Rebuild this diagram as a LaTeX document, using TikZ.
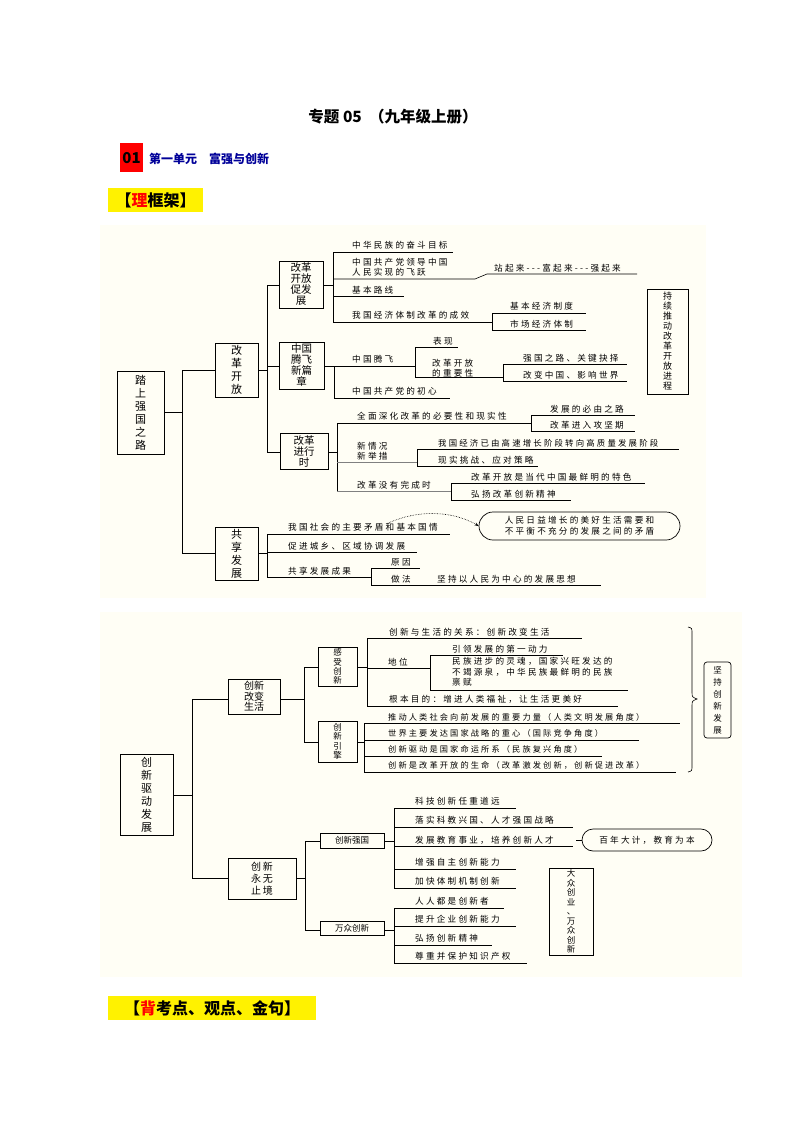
\documentclass[tikz,border=0pt]{standalone}
\usepackage{fontspec}
\newfontfamily\cjk[LetterSpace=26]{Noto Sans CJK SC}
\newfontfamily\cjkh{Noto Sans CJK SC}
\usetikzlibrary{arrows.meta}
\begin{document}
\begin{tikzpicture}[x=1pt,y=-1pt,
  ln/.style={line width=0.6pt},
  bx/.style={draw,line width=0.7pt,inner sep=0pt,align=center,font=\cjkh\fontsize{11}{13}\selectfont},
  leaf/.style={anchor=west,inner sep=0pt,font=\cjk\fontsize{8.6}{10}\selectfont},
  hdr/.style={inner sep=0pt,font=\cjkh\bfseries}]
\useasboundingbox (0,0) rectangle (794,1123);
\fill[white] (0,0) rectangle (794,1123);
% header
\node[hdr,font=\cjkh\bfseries\fontsize{15.5}{17}\selectfont] (title) at (393,117) {专题 05\ \ （九年级上册）};
\fill[red] (120,143) rectangle (143,172);
\node[hdr,font=\cjkh\bfseries\fontsize{15}{16}\selectfont] (n01) at (131.5,158) {01};
\node[hdr,anchor=west,text=blue!60!black,font=\cjkh\bfseries\fontsize{12}{13}\selectfont] (unit) at (149,159) {第一单元\quad 富强与创新};
\fill[yellow] (108,188) rectangle (203,212);
\node[hdr,font=\cjkh\bfseries\fontsize{16}{17}\selectfont] (lk) at (155.5,200) {【\textcolor{red}{理}框架】};
\fill[yellow] (108,996) rectangle (316,1020);
\node[hdr,font=\cjkh\bfseries\fontsize{16}{17}\selectfont] (bk) at (212,1008) {【\textcolor{red}{背}考点、观点、金句】};
% panels
\fill[yellow!4] (100,225) rectangle (706,598);
\fill[yellow!4] (100,612) rectangle (742,977);

% ===== Panel 1 =====
\node[bx,minimum width=47pt,minimum height=83pt] (r1) at (140.5,412.5) {踏\\上\\强\\国\\之\\路};
\node[bx,minimum width=43pt,minimum height=54pt] (gk) at (236.5,370) {改\\革\\开\\放};
\node[bx,minimum width=44pt,minimum height=47pt,font=\cjkh\fontsize{10.5}{11}\selectfont] (cj) at (301,284.5) {改革\\开放\\促发\\展};
\node[bx,minimum width=45pt,minimum height=47pt,font=\cjkh\fontsize{10.5}{11}\selectfont] (tf) at (301.5,365.5) {中国\\腾飞\\新篇\\章};
\node[bx,minimum width=48pt,minimum height=36pt,font=\cjkh\fontsize{10.5}{11}\selectfont] (jx) at (304,451) {改革\\进行\\时};
\node[bx,minimum width=41pt,minimum height=105pt,font=\cjkh\fontsize{9}{10}\selectfont] (cx) at (667.5,341.5) {持\\续\\推\\动\\改\\革\\开\\放\\进\\程};
\node[bx,minimum width=43pt,minimum height=53pt] (gx) at (236.5,553.5) {共\\享\\发\\展};
\node[bx,rounded corners=14pt,minimum width=201pt,minimum height=28pt,font=\cjk\fontsize{8.6}{11}\selectfont] (mk) at (579.5,526) {人民日益增长的美好生活需要和\\不平衡不充分的发展之间的矛盾};

\draw[ln] (r1.east |- 0,412) -- (182,412);
\draw[ln] (182,370) -- (182,553);
\draw[ln] (182,370) -- (gk.west |- 0,370);
\draw[ln] (182,553) -- (gx.west |- 0,553);
\draw[ln] (gk.east |- 0,370) -- (267,370);
\draw[ln] (267,285) -- (267,452);
\draw[ln] (267,285) -- (cj.west |- 0,285);
\draw[ln] (267,366) -- (tf.west |- 0,366);
\draw[ln] (267,452) -- (jx.west |- 0,452);
% cj branch
\draw[ln] (cj.east |- 0,285) -- (333,285);
\draw[ln] (333,252) -- (333,322);
\draw[ln] (333,252) -- (453,252);
\draw[ln] (333,279) -- (475,279) -- (487,274) -- (637,274);
\draw[ln] (333,296) -- (404,296);
\draw[ln] (333,322) -- (492,322);
\draw[ln] (492,313) -- (492,330);
\draw[ln] (492,313) -- (586,313);
\draw[ln] (492,330) -- (586,330);
\node[leaf] (t1) at (352,245) {中华民族的奋斗目标};
\node[leaf,align=left,font=\cjk\fontsize{8.6}{10}\selectfont] (t2) at (352,267) {中国共产党领导中国\\人民实现的飞跃};
\node[leaf] (t3) at (494,268) {站起来---富起来---强起来};
\node[leaf] (t4) at (352,290) {基本路线};
\node[leaf] (t5) at (352,315) {我国经济体制改革的成效};
\node[leaf] (t6) at (510,306) {基本经济制度};
\node[leaf] (t7) at (510,324) {市场经济体制};
% tf branch
\draw[ln] (tf.east |- 0,366) -- (334,366);
\draw[ln] (334,366) -- (334,398);
\draw[ln] (334,366) -- (415,366);
\draw[ln] (334,398) -- (450,398);
\draw[ln] (415,347) -- (415,377);
\draw[ln] (415,347) -- (458,347);
\draw[ln] (415,377) -- (503,377);
\draw[ln] (503,364) -- (503,381);
\draw[ln] (503,364) -- (627,364);
\draw[ln] (503,381) -- (627,381);
\node[leaf] (t8) at (352,359) {中国腾飞};
\node[leaf] (t9) at (352,391) {中国共产党的初心};
\node[leaf] (t10) at (433,341) {表现};
\node[leaf,align=left,font=\cjk\fontsize{8.6}{10}\selectfont] (t11) at (432,368) {改革开放\\的重要性};
\node[leaf] (t12) at (523,358) {强国之路、关键抉择};
\node[leaf] (t13) at (523,375) {改变中国、影响世界};
% jx branch
\draw[ln] (jx.east |- 0,452) -- (337,452);
\draw[ln] (337,423) -- (337,491);
\draw[ln] (337,423) -- (531,423);
\draw[ln,gray] (337,462) -- (417,462);
\draw[ln,gray] (337,491) -- (451,491);
\draw[ln] (531,415) -- (531,431);
\draw[ln] (531,415) -- (635,415);
\draw[ln] (531,431) -- (635,431);
\draw[ln] (417,449) -- (417,466);
\draw[ln] (417,449) -- (679,449);
\draw[ln] (417,466) -- (538,466);
\draw[ln] (451,483) -- (451,500);
\draw[ln] (451,483) -- (645,483);
\draw[ln] (451,500) -- (571,500);
\node[leaf] (t14) at (357,416) {全面深化改革的必要性和现实性};
\node[leaf,align=left,font=\cjk\fontsize{8.6}{10}\selectfont] (t15) at (357,451) {新情况\\新举措};
\node[leaf] (t16) at (357,485) {改革没有完成时};
\node[leaf] (t17) at (550,409) {发展的必由之路};
\node[leaf] (t18) at (550,425) {改革进入攻坚期};
\node[leaf,font=\cjk\fontsize{8.4}{10}\selectfont] (t19) at (438,443) {我国经济已由高速增长阶段转向高质量发展阶段};
\node[leaf] (t20) at (438,460) {现实挑战、应对策略};
\node[leaf] (t21) at (471,477) {改革开放是当代中国最鲜明的特色};
\node[leaf] (t22) at (471,494) {弘扬改革创新精神};
% gx branch
\draw[ln] (gx.east |- 0,553) -- (267,553);
\draw[ln] (267,534) -- (267,577);
\draw[ln] (267,534) -- (450,534);
\draw[ln] (267,552) -- (417,552);
\draw[ln] (267,577) -- (371,577);
\draw[ln] (371,568) -- (371,585);
\draw[ln] (371,568) -- (420,568);
\draw[ln] (371,585) -- (601,585);
\node[leaf] (t23) at (288,527) {我国社会的主要矛盾和基本国情};
\node[leaf] (t24) at (288,546) {促进城乡、区域协调发展};
\node[leaf] (t25) at (288,571) {共享发展成果};
\node[leaf] (t26) at (391,562) {原因};
\node[leaf] (t27) at (391,579) {做法};
\node[leaf] (t28) at (437,579) {坚持以人民为中心的发展思想};
\coordinate (ds) at (386,524);
\draw[densely dotted,line width=0.6pt,-{Stealth[length=4pt,width=3pt]}] (ds) .. controls (420,508) and (455,512) .. (mk.west);

% ===== Panel 2 =====
\node[bx,minimum width=53pt,minimum height=81pt] (r2) at (146.5,794.5) {创\\新\\驱\\动\\发\\展};
\node[bx,minimum width=52pt,minimum height=35pt,font=\cjkh\fontsize{10}{10.5}\selectfont] (gb) at (254,696.5) {创新\\改变\\生活};
\node[bx,minimum width=39pt,minimum height=39pt,font=\cjkh\fontsize{8.5}{9.2}\selectfont] (gs) at (337.5,666.5) {感\\受\\创\\新};
\node[bx,minimum width=39pt,minimum height=41pt,font=\cjkh\fontsize{8.5}{9.5}\selectfont] (yq) at (337.5,741.5) {创\\新\\引\\擎};
\node[bx,rounded corners=3pt,minimum width=27pt,minimum height=76pt,font=\cjkh\fontsize{8.5}{12}\selectfont] (jc) at (717.5,700) {坚\\持\\创\\新\\发\\展};
\node[bx,minimum width=68pt,minimum height=41pt,font=\cjkh\fontsize{10}{12}\selectfont] (ww) at (262,878.5) {创\,新\\永\,无\\止\,境};
\node[bx,minimum width=64pt,minimum height=15pt,font=\cjkh\fontsize{8.5}{10}\selectfont] (cq) at (352,840.5) {创新强国};
\node[bx,minimum width=64pt,minimum height=14pt,font=\cjkh\fontsize{8.5}{10}\selectfont] (wz) at (352,928.5) {万众创新};
\node[bx,rounded corners=11pt,minimum width=130pt,minimum height=22pt,font=\cjk\fontsize{8.6}{10}\selectfont] (bn) at (647,840) {百年大计，教育为本};
\node[bx,minimum width=44pt,minimum height=87pt,font=\cjkh\fontsize{8.5}{9.5}\selectfont] (dz) at (571,911.5) {大\\众\\创\\业\\、\\万\\众\\创\\新};

\draw[ln] (r2.east |- 0,795) -- (192,795);
\draw[ln] (192,699) -- (192,878);
\draw[ln] (192,699) -- (gb.west |- 0,699);
\draw[ln] (192,878) -- (ww.west |- 0,878);
\draw[ln] (gb.east |- 0,699) -- (304,699);
\draw[ln] (304,667) -- (304,742);
\draw[ln] (304,667) -- (gs.west |- 0,667);
\draw[ln] (304,742) -- (yq.west |- 0,742);
\draw[ln] (gs.east |- 0,667) -- (367,667);
\draw[ln] (367,638) -- (367,706);
\draw[ln] (367,638) -- (582,638);
\draw[ln] (367,668) -- (430,668);
\draw[ln] (367,706) -- (618,706);
\draw[ln] (430,655) -- (430,690);
\draw[ln] (430,655) -- (563,655);
\draw[ln] (430,690) -- (628,690);
\node[leaf] (s1) at (389,632) {创新与生活的关系：创新改变生活};
\node[leaf] (s2) at (388,662) {地位};
\node[leaf] (s3) at (389,699) {根本目的：增进人类福祉，让生活更美好};
\node[leaf] (s4) at (452,649) {引领发展的第一动力};
\node[leaf,align=left,font=\cjk\fontsize{8.6}{10.5}\selectfont] (s5) at (452,672) {民族进步的灵魂，国家兴旺发达的\\不竭源泉，中华民族最鲜明的民族\\禀赋};
\draw[ln] (yq.east |- 0,742) -- (364,742);
\draw[ln] (364,723) -- (364,772);
\draw[ln] (364,723) -- (680,723);
\draw[ln] (364,740) -- (639,740);
\draw[ln] (364,756) -- (602,756);
\draw[ln] (364,772) -- (676,772);
\node[leaf,font=\cjk\fontsize{8.2}{10}\selectfont] (s6) at (388,717) {推动人类社会向前发展的重要力量（人类文明发展角度）};
\node[leaf,font=\cjk\fontsize{8.2}{10}\selectfont] (s7) at (388,733) {世界主要发达国家战略的重心（国际竞争角度）};
\node[leaf,font=\cjk\fontsize{8.2}{10}\selectfont] (s8) at (388,749) {创新驱动是国家命运所系（民族复兴角度）};
\node[leaf,font=\cjk\fontsize{8.2}{10}\selectfont] (s9) at (388,765) {创新是改革开放的生命（改革激发创新，创新促进改革）};
\draw[ln] (688,627) .. controls (692,628) .. (692,634) -- (692,692) .. controls (692,697) .. (697,699) .. controls (692,701) .. (692,706) -- (692,765) .. controls (692,771) .. (688,772);
% ww branch
\draw[ln] (ww.east |- 0,878) -- (305,878);
\draw[ln] (305,841) -- (305,930);
\draw[ln] (305,841) -- (cq.west |- 0,841);
\draw[ln] (305,930) -- (wz.west |- 0,930);
\draw[ln] (cq.east |- 0,841) -- (394,841);
\draw[ln] (394,808) -- (394,888);
\draw[ln] (394,808) -- (516,808);
\draw[ln] (394,827) -- (573,827);
\draw[ln] (394,846) -- (573,846);
\draw[ln] (394,869) -- (516,869);
\draw[ln] (394,888) -- (516,888);
\node[leaf] (u1) at (415,801) {科技创新任重道远};
\node[leaf] (u2) at (415,820) {落实科教兴国、人才强国战略};
\node[leaf] (u3) at (415,840) {发展教育事业，培养创新人才};
\node[leaf] (u4) at (415,862) {增强自主创新能力};
\node[leaf] (u5) at (415,881) {加快体制机制创新};
\coordinate (bs) at (576,840);
\draw[ln] (bs) -- (bn.west);
\draw[ln] (wz.east |- 0,930) -- (394,930);
\draw[ln] (394,908) -- (394,963);
\draw[ln] (394,908) -- (504,908);
\draw[ln] (394,926) -- (516,926);
\draw[ln] (394,945) -- (492,945);
\draw[ln] (394,963) -- (527,963);
\node[leaf] (u6) at (415,901) {人人都是创新者};
\node[leaf] (u7) at (415,919) {提升企业创新能力};
\node[leaf] (u8) at (415,938) {弘扬创新精神};
\node[leaf] (u9) at (415,956) {尊重并保护知识产权};
\end{tikzpicture}
\end{document}
